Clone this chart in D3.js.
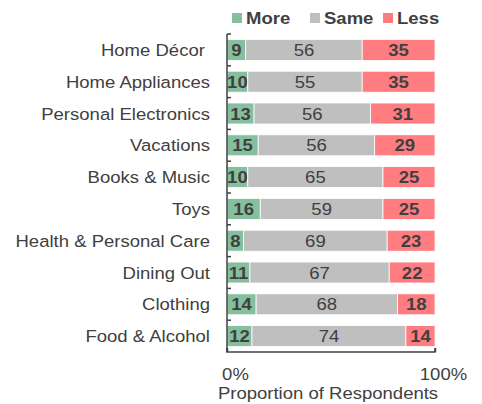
<!DOCTYPE html>
<html>
<head>
<meta charset="utf-8">
<script src="https://cdn.jsdelivr.net/npm/d3@7"></script>
<style>
  body { margin: 0; background: #fff; }
  text { font-family: "Liberation Sans", Arial, sans-serif; fill: #404040; white-space: pre; }
</style>
</head>
<body>
<script>
'use strict';

const categories = ["Home Décor ", "Home Appliances", "Personal Electronics", "Vacations",
  "Books & Music", "Toys", "Health & Personal Care", "Dining Out", "Clothing", "Food & Alcohol"]
const more = [9, 10, 13, 15, 10, 16, 8, 11, 14, 12]
const same = [56, 55, 56, 56, 65, 59, 69, 67, 68, 74]
const less = [35, 35, 31, 29, 25, 25, 23, 22, 18, 14]
const seriesNames = ["More", "Same", "Less"]
const seriesColors = ["#86BF9E", "#BFBFBF", "#FF7C80"]
const xTicks = [0, 100]

const m = { width: 482, height: 404, left: 227, right: 435, top: 34, bottom: 352 }
const fs = 17
const sx = 1.09

const svg = d3.select('body').append('svg')
  .attr('width', m.width)
  .attr('height', m.height)

const x = d3.scaleLinear().domain([0, 100]).range([m.left, m.right])
const y = d3.scaleBand().domain(categories).range([m.top, m.bottom])
  .paddingInner(0.34).paddingOuter(0.17)
const color = d3.scaleOrdinal().domain(seriesNames).range(seriesColors)

// rows for the stack
const rows = categories.map((c, i) => ({ cat: c, More: more[i], Same: same[i], Less: less[i] }))
const stacked = d3.stack().keys(seriesNames)(rows)

// stretched text helper (reference text is a bit wide)
function label(g, px, py) {
  return g.attr('transform', `translate(${px},${py}) scale(${sx},1)`)
}

// bars
const layers = svg.append('g').selectAll('g')
  .data(stacked)
  .join('g')
  .attr('fill', d => color(d.key))

layers.selectAll('rect')
  .data(d => d)
  .join('rect')
  .attr('x', d => x(d[0]))
  .attr('y', d => y(d.data.cat))
  .attr('width', d => x(d[1]) - x(d[0]))
  .attr('height', y.bandwidth())
  .attr('stroke', '#fff')
  .attr('stroke-width', 0.8)

// value labels
layers.each(function (layer) {
  d3.select(this).selectAll('text')
    .data(layer)
    .join('text')
    .each(function (d) {
      label(d3.select(this), (x(d[0]) + x(d[1])) / 2, y(d.data.cat) + y.bandwidth() / 2 + fs * 0.36)
    })
    .attr('text-anchor', 'middle')
    .style('font-size', fs + 'px')
    .style('font-weight', layer.key === 'Same' ? 'normal' : 'bold')
    .style('fill', '#404040')
    .text(d => d.data[layer.key])
})

// category labels
svg.append('g').selectAll('text')
  .data(categories)
  .join('text')
  .each(function (d) {
    label(d3.select(this), m.left - 17, y(d) + y.bandwidth() / 2 + fs * 0.36)
  })
  .attr('text-anchor', 'end')
  .style('font-size', fs + 'px')
  .text(d => d)

// axes
const axisColor = '#404040'
const yAxis = svg.append('g')
  .attr('transform', 'translate(' + m.left + ',0)')
  .call(d3.axisRight(y).tickSize(0).tickFormat(''))
yAxis.select('.domain').remove()
yAxis.append('line')
  .attr('x1', 0).attr('x2', 0).attr('y1', m.top).attr('y2', m.bottom)
  .attr('stroke', axisColor).attr('stroke-width', 1.5)
const bounds = categories.map(c => y(c) - y.step() * y.paddingInner() / 2)
yAxis.selectAll('.tickmark')
  .data(bounds)
  .join('line')
  .attr('class', 'tickmark')
  .attr('x1', 0).attr('x2', 4)
  .attr('y1', d => d).attr('y2', d => d)
  .attr('stroke', axisColor).attr('stroke-width', 1.5)

const xAxis = svg.append('g')
  .attr('transform', 'translate(0,' + m.bottom + ')')
  .call(d3.axisBottom(x).tickValues(xTicks).tickSize(-4).tickFormat(d => d + '%'))
xAxis.select('.domain').attr('stroke', axisColor).attr('stroke-width', 1.5)
  .attr('d', 'M' + m.left + ',-4V0H' + m.right + 'V-4')
xAxis.selectAll('.tick line').attr('stroke', axisColor).attr('stroke-width', 1.5)
xAxis.selectAll('.tick text')
  .attr('y', 0).attr('dy', 0)
  .attr('transform', `translate(8,28) scale(${sx},1)`)
  .style('font-size', fs + 'px')
  .style('font-family', '"Liberation Sans", Arial, sans-serif')
  .style('fill', '#404040')

// axis title
label(svg.append('text'), (m.left + m.right) / 2 - 3, 399)
  .attr('text-anchor', 'middle')
  .style('font-size', fs + 'px')
  .text('Proportion of Respondents')

// legend
const legendX = [232, 310, 383]
const legend = svg.append('g').selectAll('g')
  .data(seriesNames)
  .join('g')
  .attr('transform', (d, i) => 'translate(' + legendX[i] + ',13)')
legend.append('rect')
  .attr('width', 10).attr('height', 10)
  .attr('fill', d => color(d))
legend.append('text')
  .each(function () { label(d3.select(this), 14, 11) })
  .style('font-size', fs + 'px')
  .style('font-weight', 'bold')
  .text(d => d)
</script>
</body>
</html>
